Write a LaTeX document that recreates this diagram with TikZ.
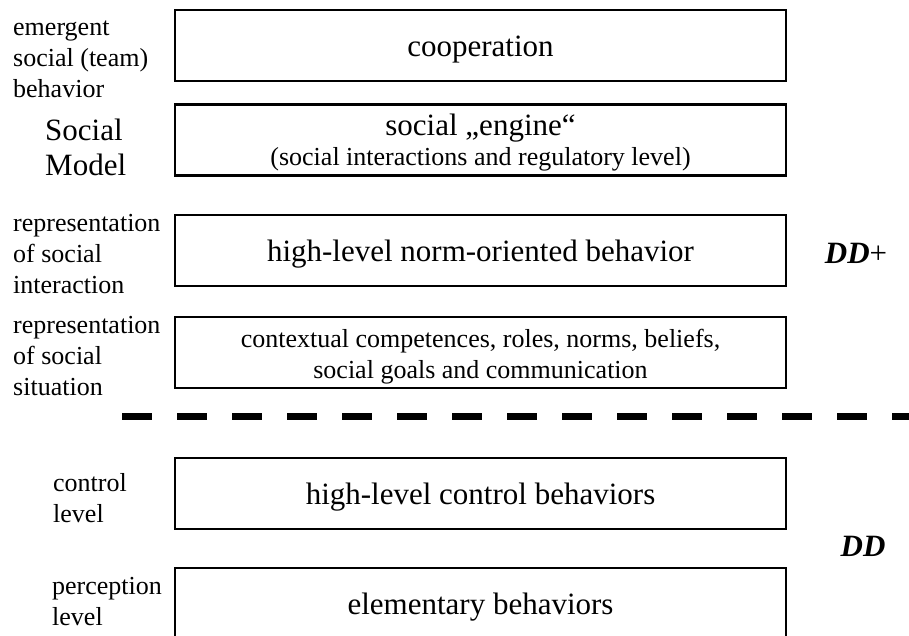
\documentclass[tikz,border=0pt]{standalone}
\usepackage{fontspec}
\setmainfont{Liberation Serif}
\usepackage{tikz}

\begin{document}
\begin{tikzpicture}[x=1pt,y=-1pt,
  lvlbox/.style={draw,line width=2.2pt,minimum width=611pt,minimum height=71pt,inner sep=0pt,align=center,text height=26pt,text depth=4pt,font=\fontsize{31}{32}\selectfont},
  twoline/.style={text height=,text depth=},
  lbl/.style={anchor=west,inner sep=0pt,align=left,font=\fontsize{26}{31}\selectfont},
  ddlbl/.style={inner sep=0pt,font=\fontsize{31}{36}\selectfont}]
\useasboundingbox (0,0) rectangle (909,635);
\clip (0,0) rectangle (909,635);

\node[lvlbox] (coop) at (480.5,45.5) {cooperation};
\node[lvlbox,twoline] (engine) at (480.5,140) {\rule{0pt}{27pt}social „engine“\\[-2pt]{\fontsize{26}{31}\selectfont (social interactions and regulatory level)}};
\node[lvlbox] (norm) at (480.5,250.5) {high-level norm-oriented behavior};
\node[lvlbox,twoline,font=\fontsize{26}{31}\selectfont] (context) at (480.5,352.5) {\rule{0pt}{26pt}contextual competences, roles, norms, beliefs,\\social goals and communication};
\node[lvlbox] (control) at (480.5,493.5) {high-level control behaviors};
\node[lvlbox] (elem) at (480.5,603.5) {elementary behaviors};

\node[lbl] (emerg) at (13,59) {emergent\\social (team)\\behavior};
\node[lbl,font=\fontsize{31}{35}\selectfont] (model) at (45,147.5) {Social\\Model};
\node[lbl] (repint) at (13,254) {representation\\of social\\interaction};
\node[lbl] (repsit) at (13,356.5) {representation\\of social\\situation};
\node[lbl] (ctrl) at (53,498) {control\\level};
\node[lbl] (perc) at (52,602) {perception\\level};

\node[ddlbl] (ddplus) at (856,253) {\textbf{\textit{DD}}+};
\node[ddlbl] (dd) at (863,546) {\textbf{\textit{DD}}};

\coordinate (sepL) at (122,416);
\coordinate (sepR) at (930,416);
\draw[line width=7pt,dash pattern=on 30pt off 25pt] (sepL) -- (sepR);
\end{tikzpicture}
\end{document}
